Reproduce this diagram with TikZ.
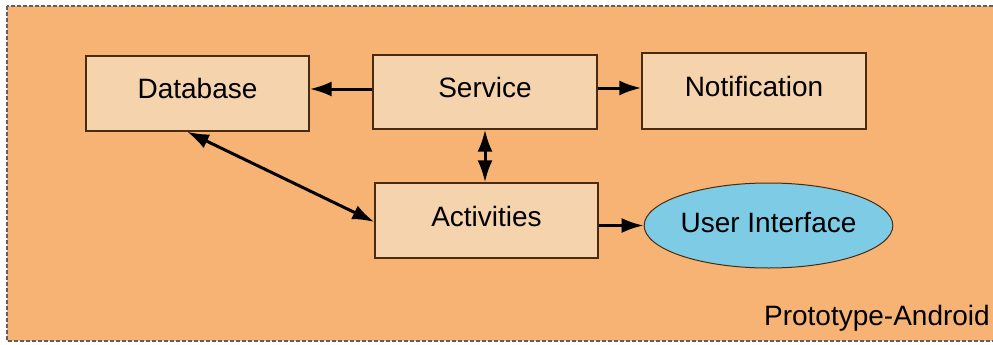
\documentclass[tikz,border=0pt]{standalone}
\usepackage{fontspec}
\setmainfont{Liberation Sans}
\usetikzlibrary{arrows.meta,shapes.geometric}
\definecolor{bgorange}{HTML}{F7B373}
\definecolor{boxfill}{HTML}{F5D3AD}
\definecolor{boxline}{HTML}{4A2A10}
\definecolor{uifill}{HTML}{7DCBE4}
\definecolor{frameline}{HTML}{606060}
\tikzset{
  box/.style={draw=boxline, line width=1.3pt, fill=boxfill, rectangle, inner sep=0pt,
    font=\fontsize{28}{32}\selectfont, text height=21pt, text depth=10pt},
  uinode/.style={draw=boxline, line width=1pt, fill=uifill, ellipse, inner sep=0pt,
    font=\fontsize{28}{32}\selectfont, text height=21pt, text depth=8pt},
  conn/.style={line width=3pt, -{Latex[length=22pt,width=15pt]}},
  dconn/.style={line width=3pt, {Latex[length=22pt,width=15pt]}-{Latex[length=22pt,width=15pt]}},
  frame/.style={draw=frameline, line width=1.5pt, dash pattern=on 4pt off 2pt, fill=bgorange},
  caption/.style={font=\fontsize{28}{32}\selectfont, anchor=base east, inner sep=0pt}
}
\begin{document}
\begin{tikzpicture}[x=1pt,y=-1pt]
\useasboundingbox (0,0) rectangle (993,345);
\clip (0,0) rectangle (993,345);
\fill[white] (0,0) rectangle (993,345);
\draw[frame] (7,6) rectangle (1005,341);

\node[box, minimum width=223pt, minimum height=75pt] (db) at (197.5,93.5) {Database\hspace{10pt}};
\node[box, minimum width=224pt, minimum height=74pt] (svc) at (485,92) {Service};
\node[box, minimum width=224pt, minimum height=76pt] (notif) at (754,91) {Notification};
\node[box, minimum width=223pt, minimum height=75pt] (act) at (486.5,220.5) {Activities\hspace{12pt}};
\node[uinode, minimum width=243pt, minimum height=85pt] (ui) at (768.5,225.5) {User Interface};
\node[caption] (proto) at (990,325) {Prototype-Android};

\draw[conn] ([yshift=3pt]svc.west) -- ([yshift=3pt]svc.west -| db.east);
\draw[conn] ([yshift=4pt]svc.east) -- ([yshift=4pt]svc.east -| notif.west);
\draw[dconn] (svc.south) -- (svc.south |- act.north);
\draw[dconn] ([xshift=-10.5pt]db.south) -- ([yshift=-1.5pt]act.west);
\draw[conn] (act.east |- ui.west) -- (ui.west);
\end{tikzpicture}
\end{document}
